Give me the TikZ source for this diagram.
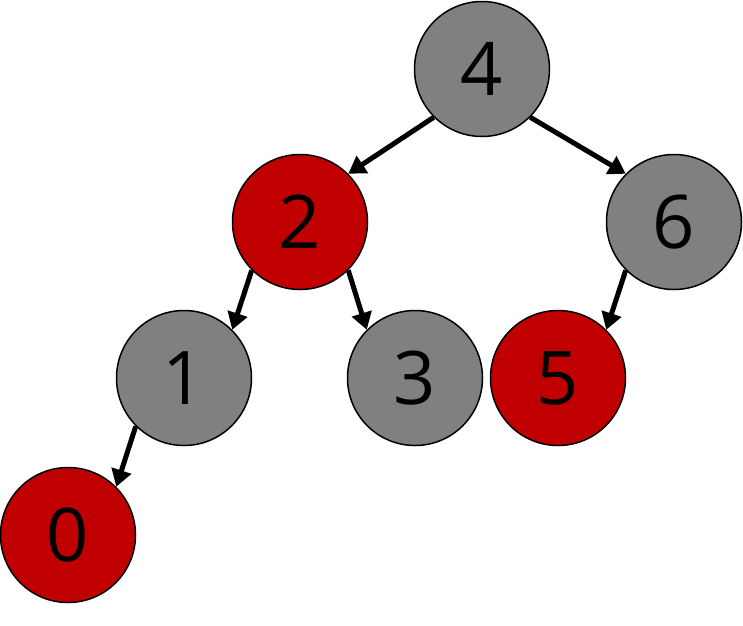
\documentclass[tikz,border=0pt]{standalone}
\usepackage{fontspec}
\setmainfont{Open Sans}
\usetikzlibrary{arrows.meta}
\definecolor{nodegray}{HTML}{808080}
\definecolor{nodered}{HTML}{C00000}
\begin{document}
\begin{tikzpicture}[x=1pt,y=-1pt,
  vert/.style={circle,draw=black,line width=1.5pt,minimum size=135pt,inner sep=0pt,
    font=\fontsize{74}{74}\selectfont},
  gnode/.style={vert,fill=nodegray},
  rnode/.style={vert,fill=nodered},
  edge/.style={line width=5pt,-{Triangle[length=17pt,width=20pt]}}]
\useasboundingbox (0,0) rectangle (743,625);
\node[gnode] (n4) at (482,69) {4};
\node[rnode] (n2) at (300,222) {2};
\node[gnode] (n6) at (674,222) {6};
\node[gnode] (n1) at (184,378) {1};
\node[gnode] (n3) at (415,378) {3};
\node[rnode] (n5) at (558,378) {5};
\node[rnode] (n0) at (68,535) {0};
\draw[edge] (n4.225) -- (n2.45);
\draw[edge] (n4.-45) -- (n6.135);
\draw[edge] (n2.225) -- (n1.45);
\draw[edge] (n2.-45) -- (n3.135);
\draw[edge] (n6.225) -- (n5.45);
\draw[edge] (n1.225) -- (n0.45);
\end{tikzpicture}
\end{document}
